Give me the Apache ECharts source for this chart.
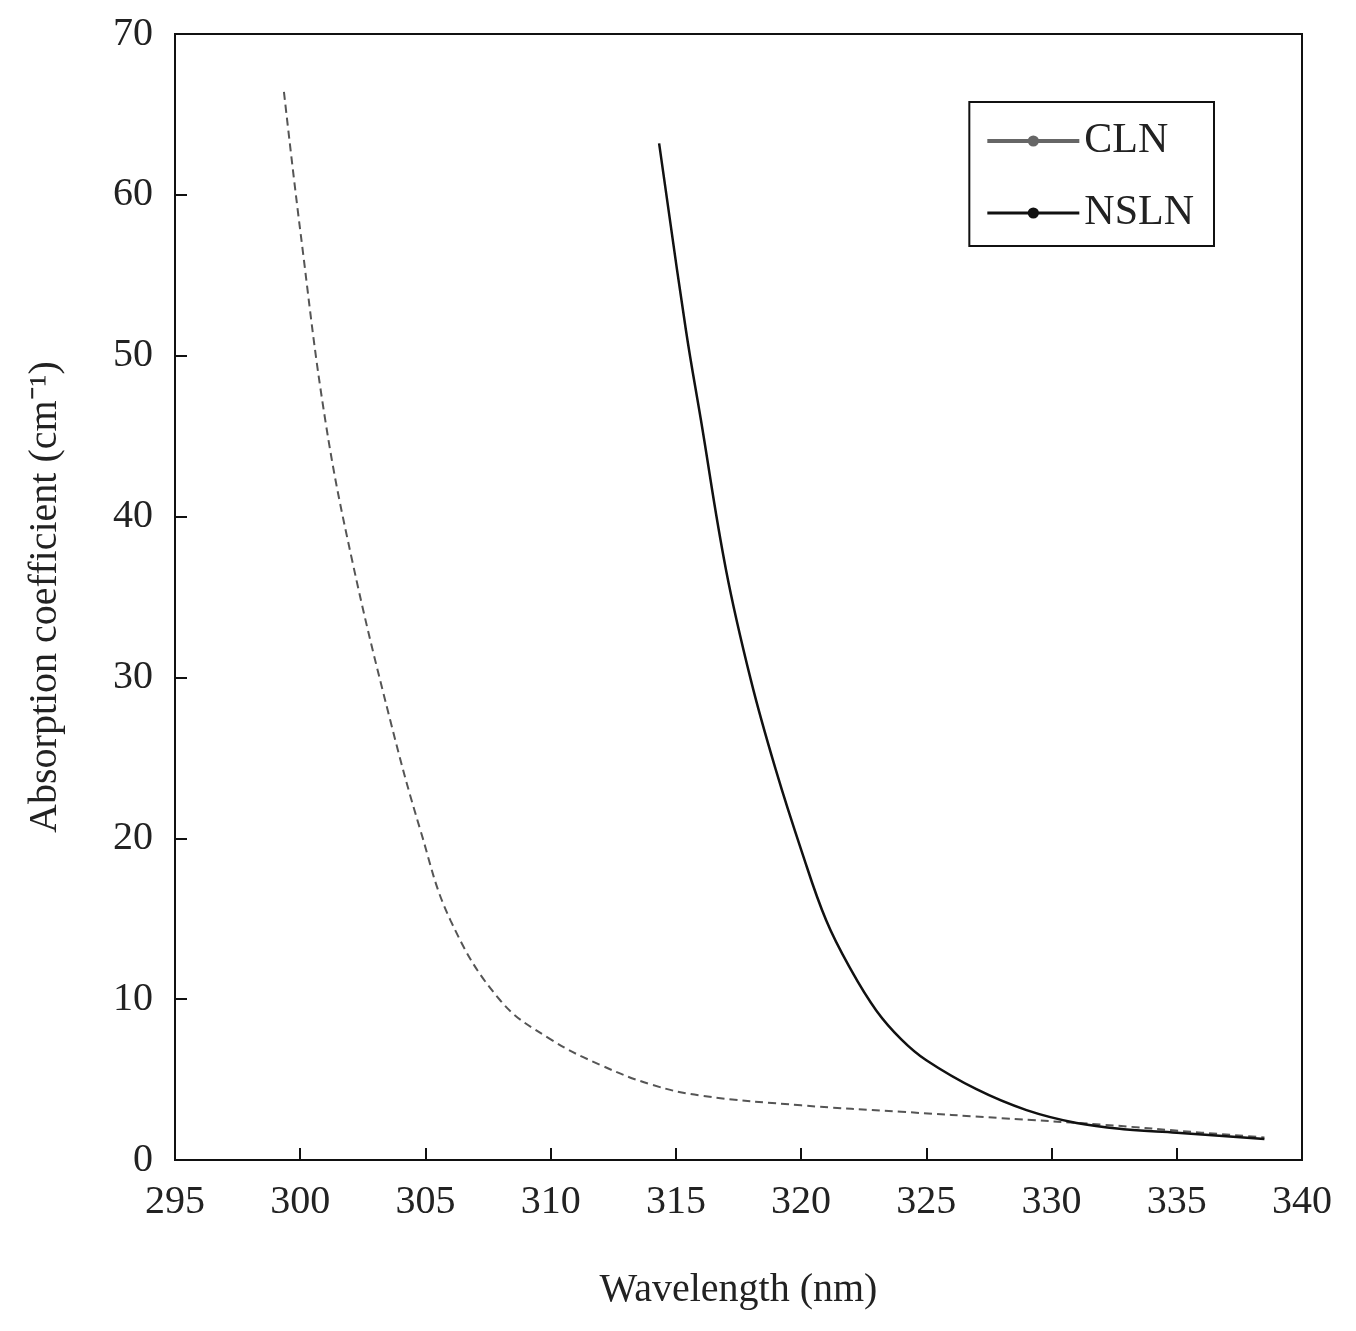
<!DOCTYPE html><html><head><meta charset="utf-8"><script src="https://cdn.jsdelivr.net/npm/echarts@6/dist/echarts.min.js"></script></head><body style="margin:0;background:#fff"><div id="c" style="width:1356px;height:1331px"></div><script>
const clnX=[299.35,300,301,302.07,303.6,304.8,306,308,310,312,314,316,320,324,328,332,336,338.5];
const clnY=[66.4,57.8,46,37.3,27.3,20.5,14.9,9.9,7.5,5.9,4.7,4.0,3.4,3.0,2.6,2.2,1.7,1.4];
const nslnX=[314.33,315.4,316,317,318,319,320,321,322,323,324,325,327,329,331,333,335,338.5];
const nslnY=[63.2,51.6,46,36.7,29.8,24.2,19.3,14.9,11.8,9.3,7.5,6.2,4.4,3.1,2.3,1.9,1.7,1.3];
const pair=(a,b)=>a.map((v,i)=>[v,b[i]]);
const F='Liberation Serif';
const ax={axisLine:{show:true,lineStyle:{color:'#111',width:2}},axisTick:{inside:true,length:12,lineStyle:{color:'#111',width:2}},splitLine:{show:false},axisLabel:{fontFamily:F,fontSize:40,color:'#222',margin:22},nameTextStyle:{fontFamily:F,fontSize:40,color:'#222'}};
echarts.init(document.getElementById('c')).setOption({
 animation:false,
 grid:{left:175,right:54,top:34,bottom:171,show:true,borderColor:'#111',borderWidth:2},
 legend:{right:142,top:102,orient:'vertical',itemWidth:92,itemHeight:14,itemGap:30,borderColor:'#111',borderWidth:2,padding:[18,20,12,16],textStyle:{fontFamily:F,fontSize:42,color:'#222'},
   data:[{name:'CLN',lineStyle:{type:'solid',color:'#666',width:4}},{name:'NSLN',lineStyle:{type:'solid',color:'#111',width:3}}]},
 xAxis:{type:'value',min:295,max:340,interval:5,name:'Wavelength (nm)',nameLocation:'middle',nameGap:110,...ax},
 yAxis:{type:'value',min:0,max:70,interval:10,name:'Absorption coefficient (cm⁻¹)',nameLocation:'middle',nameGap:110,...ax},
 series:[
  {name:'CLN',type:'line',smooth:0.4,symbol:'none',data:pair(clnX,clnY),lineStyle:{color:'#555',width:2,type:[8,5]},itemStyle:{color:'#666'}},
  {name:'NSLN',type:'line',smooth:0.4,symbol:'none',data:pair(nslnX,nslnY),lineStyle:{color:'#111',width:2.5},itemStyle:{color:'#111'}}
 ]});
</script></body></html>
